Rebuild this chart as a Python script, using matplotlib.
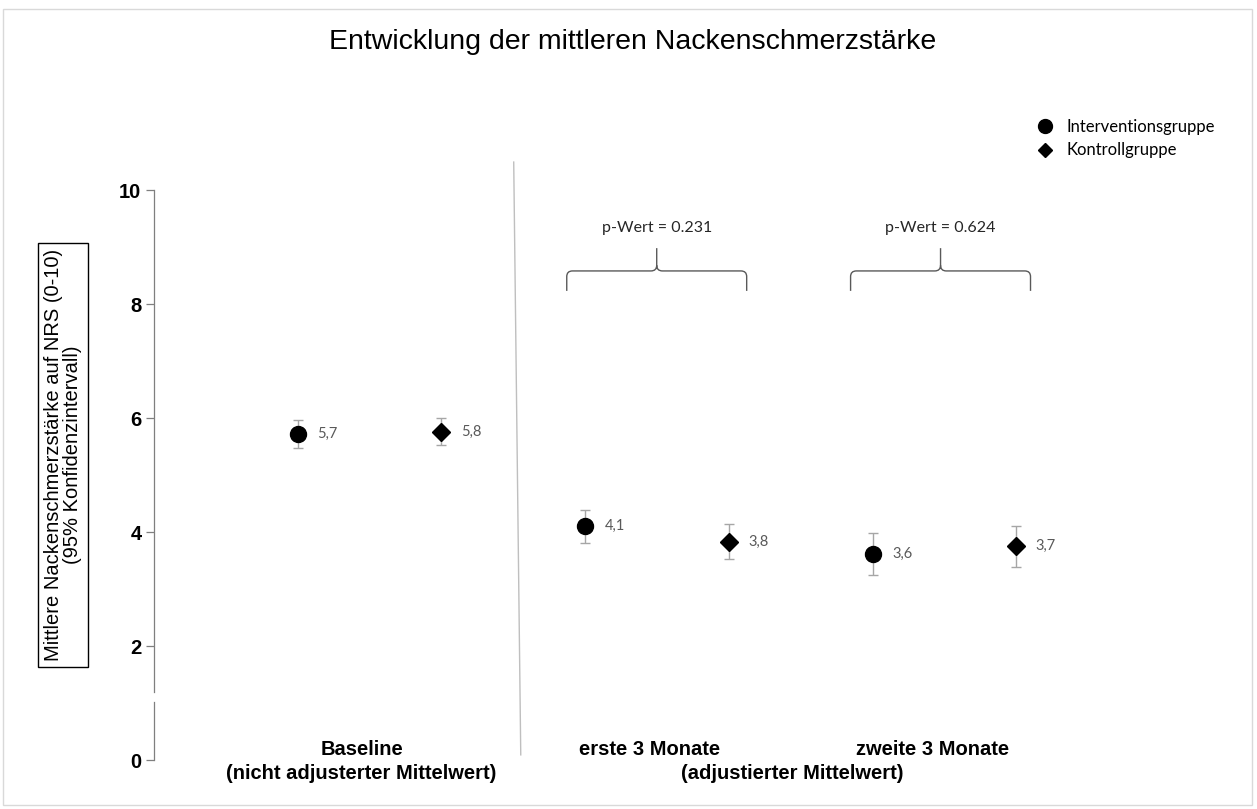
import matplotlib
matplotlib.use("Agg")
import matplotlib.pyplot as plt
from matplotlib.path import Path
from matplotlib.patches import PathPatch, Rectangle
from matplotlib.lines import Line2D

# ---- data ----
groups = ["Interventionsgruppe", "Kontrollgruppe"]
periods = ["Baseline", "erste 3 Monate", "zweite 3 Monate"]
interv_mean = [5.72, 4.10, 3.61]
interv_lo = [5.47, 3.81, 3.25]
interv_hi = [5.96, 4.39, 3.98]
ctrl_mean = [5.76, 3.82, 3.75]
ctrl_lo = [5.53, 3.53, 3.39]
ctrl_hi = [6.00, 4.14, 4.10]
interv_labels = ["5,7", "4,1", "3,6"]
ctrl_labels = ["5,8", "3,8", "3,7"]
p_values = ["p-Wert = 0.231", "p-Wert = 0.624"]
yticks = [0, 2, 4, 6, 8, 10]

W, H = 1257, 809
fig = plt.figure(figsize=(W / 100, H / 100), dpi=100)
ax = fig.add_axes([154 / W, (H - 760) / H, 1006 / W, 570 / H])
ax.set_xlim(-1, 6)
ax.set_ylim(0, 10)
for s in ax.spines.values():
    s.set_visible(False)
ax.set_xticks([])
ax.set_yticks(yticks)
ax.set_yticklabels([str(t) for t in yticks], fontfamily="Liberation Sans",
                   fontweight="bold", fontsize=14.5)
ax.tick_params(axis="y", length=6, color="#7f7f7f", width=0.9, pad=3)

# broken y axis
axc = "#7f7f7f"
ax.plot([-1, -1], [10, 1.19], color=axc, lw=0.9, clip_on=False)
ax.plot([-1, -1], [1.02, 0], color=axc, lw=0.9, clip_on=False)

xi = [0, 2, 4]
xc = [1, 3, 5]
err_kw = dict(ecolor="#a6a6a6", elinewidth=1.0, capsize=3.5, capthick=1.0, ls="none")
ax.errorbar(xi, interv_mean,
            yerr=[[m - l for m, l in zip(interv_mean, interv_lo)],
                  [h - m for m, h in zip(interv_mean, interv_hi)]],
            fmt="o", color="black", ms=11.5, zorder=3, clip_on=False, **err_kw)
ax.errorbar(xc, ctrl_mean,
            yerr=[[m - l for m, l in zip(ctrl_mean, ctrl_lo)],
                  [h - m for m, h in zip(ctrl_mean, ctrl_hi)]],
            fmt="D", color="black", ms=9.2, zorder=3, clip_on=False, **err_kw)

for x, y, t in zip(xi, interv_mean, interv_labels):
    ax.annotate(t, (x, y), xytext=(14, 0), textcoords="offset points",
                va="center", ha="left", fontsize=10.5, color="#595959", fontfamily="Lato")
for x, y, t in zip(xc, ctrl_mean, ctrl_labels):
    ax.annotate(t, (x, y), xytext=(14, 0), textcoords="offset points",
                va="center", ha="left", fontsize=10.5, color="#595959", fontfamily="Lato")

# separator line
ax.plot([1.503, 1.552], [10.49, 0.09], color="#bfbfbf", lw=1.0, clip_on=False)

# braces
def brace(cx, half, yb, yh, yt):
    rx, ry = 0.04, 0.1
    x0, x1 = cx - half, cx + half
    verts = [(x0, yb), (x0, yh - ry), (x0, yh), (x0 + rx, yh),
             (cx - rx, yh), (cx, yh), (cx, yh + ry), (cx, yt),
             (cx, yh + ry), (cx, yh), (cx + rx, yh),
             (x1 - rx, yh), (x1, yh), (x1, yh - ry), (x1, yb)]
    codes = [Path.MOVETO, Path.LINETO, Path.CURVE3, Path.CURVE3,
             Path.LINETO, Path.CURVE3, Path.CURVE3, Path.LINETO,
             Path.MOVETO, Path.CURVE3, Path.CURVE3,
             Path.LINETO, Path.CURVE3, Path.CURVE3, Path.LINETO]
    ax.add_patch(PathPatch(Path(verts, codes), fill=False, ec="#595959", lw=1.0,
                           clip_on=False))

for cx, pv in zip([2.498, 4.473], p_values):
    brace(cx, 0.626, 8.23, 8.58, 8.98)
    ax.text(cx, 9.33, pv, ha="center", va="center", fontsize=11.5,
            fontfamily="Lato", color="#262626")

# x category labels
xl = dict(ha="center", va="center", fontsize=14.5, fontweight="bold",
          fontfamily="Liberation Sans", transform=ax.transData, clip_on=False)
ax.text(0.45, 0.18, "Baseline", **xl)
ax.text(0.44, -0.24, "(nicht adjusterter Mittelwert)", **xl)
ax.text(2.45, 0.18, "erste 3 Monate", **xl)
ax.text(4.42, 0.18, "zweite 3 Monate", **xl)
ax.text(3.44, -0.24, "(adjustierter Mittelwert)", **xl)

# y label in box
fig.text(63 / W, 1 - 455 / H,
         "Mittlere Nackenschmerzstärke auf NRS (0-10)\n(95% Konfidenzintervall)",
         rotation=90, ha="center", va="center", fontsize=14.5,
         fontfamily="Liberation Sans", multialignment="center", linespacing=1.05,
         bbox=dict(boxstyle="square,pad=0.3", fc="white", ec="black", lw=1.0))

# title
fig.text(633 / W, 1 - 42 / H, "Entwicklung der mittleren Nackenschmerzstärke",
         ha="center", va="center", fontsize=20.5, fontfamily="Liberation Sans")

# legend
handles = [Line2D([], [], marker="o", color="black", ls="none", ms=10),
           Line2D([], [], marker="D", color="black", ls="none", ms=7.5)]
fig.legend(handles, groups, loc="upper left", bbox_to_anchor=(1037 / W, 1 - 119 / H),
           frameon=False, prop=dict(family="Lato", size=12), handlelength=1.0,
           handletextpad=0.8, labelspacing=0.45, borderpad=0, borderaxespad=0)

# figure border
fig.patches.append(Rectangle((3 / W, 4 / H), 1249 / W, 796 / H, transform=fig.transFigure,
                             fill=False, ec="#d9d9d9", lw=1.0))

fig.savefig("out.png", dpi=100)
